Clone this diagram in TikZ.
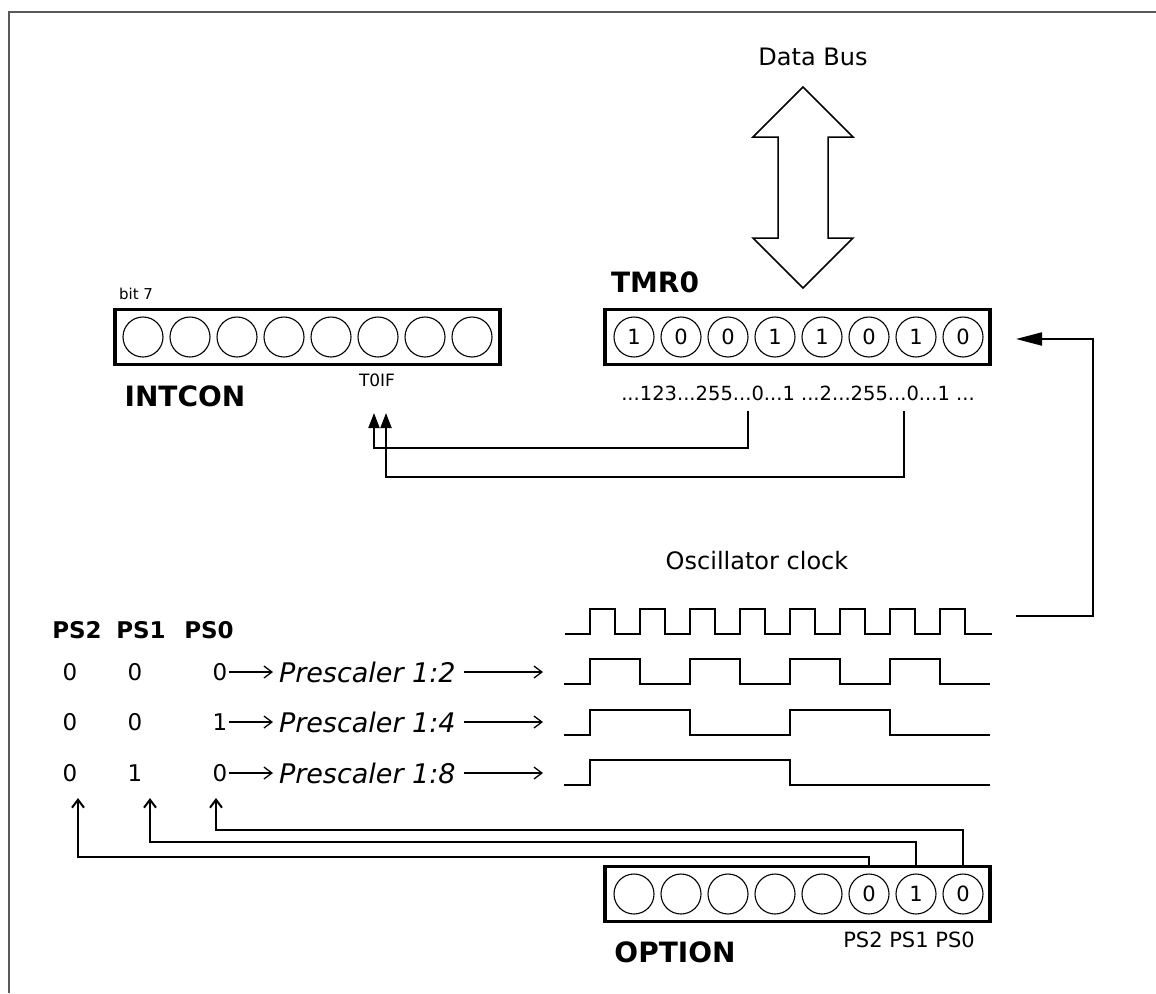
\documentclass[tikz,border=0pt]{standalone}
\usepackage{fontspec}
\setmainfont{DejaVu Sans}
\usetikzlibrary{arrows.meta}
\begin{document}
\begin{tikzpicture}[x=1pt,y=-1pt,
  every node/.style={inner sep=0pt,outer sep=0pt},
  regbox/.style={draw,line width=3.5pt,minimum width=385pt,minimum height=55pt},
  bitc/.style={circle,draw,line width=1.1pt,minimum size=40pt,inner sep=0pt,font=\fontsize{21}{23}\selectfont},
  wave/.style={line width=2pt,line join=miter},
  conn/.style={line width=2pt},
  txtarrow/.style={line width=1.3pt,-{Straight Barb[length=8pt,width=12pt]}},
  uparrow/.style={line width=2pt,-{Straight Barb[length=8pt,width=12pt]}},
  regname/.style={font=\fontsize{28}{32}\selectfont\bfseries},
  lbl/.style={font=\fontsize{24}{28}\selectfont},
  small/.style={font=\fontsize{15}{17}\selectfont},
  digit/.style={font=\fontsize{23}{26}\selectfont},
  head/.style={font=\fontsize{23}{26}\selectfont\bfseries},
  pre/.style={font=\fontsize{27}{30}\selectfont\itshape}]
\useasboundingbox (0,0) rectangle (1156,993);
% frame
\draw[black!65,line width=2.5pt] (9,993) -- (9,12) -- (1156,12);

% data bus
\node[lbl] (dbus) at (813,57) {Data Bus};
\draw[line width=1.5pt,line join=miter] (803,87) -- (853,137) -- (828,137) -- (828,238) -- (853,238)
  -- (803,288) -- (753,238) -- (778,238) -- (778,137) -- (753,137) -- cycle;

% INTCON
\node[regbox] (intcon) at (307.5,337) {};
\foreach \i in {7,...,0} \node[bitc] (int\i) at ({143+47*(7-\i)},337) {};
\node[small] (bit7) at (136,294) {bit 7};
\node[regname] (intconlbl) at (185,396) {INTCON};
\node[font=\fontsize{17}{19}\selectfont] (t0if) at (377,380) {T0IF};

% TMR0
\node[regbox] (tmr0) at (797.5,337) {};
\foreach \i/\v in {7/1,6/0,5/0,4/1,3/1,2/0,1/1,0/0} \node[bitc] (tmr\i) at ({634+47*(7-\i)},337) {\v};
\node[regname] (tmrlbl) at (655,282) {TMR0};
\node[font=\fontsize{19.5}{22}\selectfont] (seq) at (798,393) {...123...255...0...1 ...2...255...0...1 ...};

% overflow connectors to T0IF
\coordinate (seqA) at (748,411);
\coordinate (seqB) at (904,411);
\coordinate (t0ifA) at (374,413);
\coordinate (t0ifB) at (386,413);
\draw[conn,-{Triangle[length=15pt,width=11pt]}] (seqA) -- ++(0,37) -| (t0ifA);
\draw[conn,-{Triangle[length=15pt,width=11pt]}] (seqB) -- ++(0,66) -| (t0ifB);

% oscillator clock
\node[lbl] (osc) at (757,561) {Oscillator clock};
\draw[wave] (565,634) foreach \k in {0,...,7} { -- ({590+50*\k},634) -- ({590+50*\k},609) -- ({615+50*\k},609) -- ({615+50*\k},634) } -- (992,634);
\draw[wave] (564,684) foreach \k in {0,...,3} { -- ({590+100*\k},684) -- ({590+100*\k},659) -- ({640+100*\k},659) -- ({640+100*\k},684) } -- (990,684);
\draw[wave] (564,735) -- (590,735) -- (590,710) -- (690,710) -- (690,735) -- (790,735) -- (790,710) -- (890,710) -- (890,735) -- (990,735);
\draw[wave] (564,785) -- (590,785) -- (590,760) -- (790,760) -- (790,785) -- (990,785);

% clock to TMR0
\coordinate (clkout) at (1016,616);
\coordinate (tmrin) at (1016,339);
\draw[conn,-{Triangle[length=26pt,width=13pt]}] (clkout) -- ++(77,0) |- (tmrin);

% PS table
\node[head] (h2) at (77,630) {PS2};
\node[head] (h1) at (141,630) {PS1};
\node[head] (h0) at (209,630) {PS0};

\node[digit] (r1a) at (70,672) {0};
\node[digit] (r1b) at (135,672) {0};
\node[digit] (r1c) at (220,672) {0};
\node[digit] (r2a) at (70,722) {0};
\node[digit] (r2b) at (135,722) {0};
\node[digit] (r2c) at (220,722) {1};
\node[digit] (r3a) at (70,773) {0};
\node[digit] (r3b) at (135,773) {1};
\node[digit] (r3c) at (220,773) {0};

\node[pre,anchor=west] (p2) at (279,672) {Prescaler 1:2};
\node[pre,anchor=west] (p4) at (279,722) {Prescaler 1:4};
\node[pre,anchor=west] (p8) at (279,773) {Prescaler 1:8};

\coordinate (w2) at (543,672);
\coordinate (w4) at (543,722);
\coordinate (w8) at (543,773);
\foreach \r/\p/\w in {r1c/p2/w2,r2c/p4/w4,r3c/p8/w8} {
  \draw[txtarrow,shorten <=2pt,shorten >=6pt] (\r.east) -- (\p.west);
  \draw[txtarrow,shorten <=8pt] (\p.east) -- (\w);
}

% OPTION
\node[regbox] (option) at (797.5,894) {};
\foreach \i/\v in {7/{},6/{},5/{},4/{},3/{},2/0,1/1,0/0} \node[bitc] (opt\i) at ({634+47*(7-\i)},894) {\v};
\node[regname] (optlbl) at (675,952) {OPTION};
\node[font=\fontsize{21}{23}\selectfont] (psnames) at (909,940) {PS2 PS1 PS0};

\coordinate (ps0tip) at (216,798);
\coordinate (ps1tip) at (150,798);
\coordinate (ps2tip) at (78,798);
\draw[uparrow] (opt0 |- option.north) -- ++(0,-37) -| (ps0tip);
\draw[uparrow] (opt1 |- option.north) -- ++(0,-24.5) -| (ps1tip);
\draw[uparrow] (opt2 |- option.north) -- ++(0,-9.5) -| (ps2tip);
\end{tikzpicture}
\end{document}
